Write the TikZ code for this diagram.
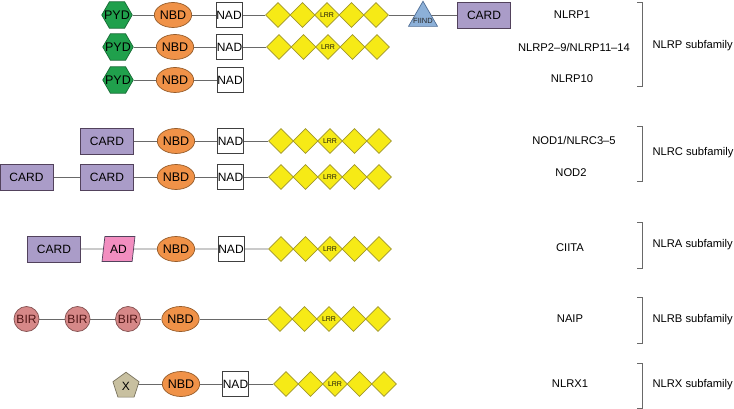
\documentclass[tikz,border=0pt]{standalone}
\usepackage{fontspec}
\setmainfont{Liberation Sans}
\usetikzlibrary{shapes.geometric,backgrounds}

\definecolor{pydfill}{RGB}{32,160,76}
\definecolor{pydline}{RGB}{22,105,52}
\definecolor{nbdfill}{RGB}{240,146,72}
\definecolor{nbdline}{RGB}{150,92,42}
\definecolor{lrrfill}{RGB}{246,234,22}
\definecolor{lrrline}{RGB}{160,150,44}
\definecolor{cardfill}{RGB}{170,156,200}
\definecolor{cardline}{RGB}{82,66,92}
\definecolor{adfill}{RGB}{242,142,192}
\definecolor{birfill}{RGB}{214,136,136}
\definecolor{birline}{RGB}{130,80,80}
\definecolor{birtext}{RGB}{80,22,22}
\definecolor{xfill}{RGB}{200,192,160}
\definecolor{xline}{RGB}{120,114,94}
\definecolor{fiindfill}{RGB}{140,176,216}
\definecolor{fiindline}{RGB}{80,110,150}
\definecolor{linkgray}{RGB}{105,105,105}

\tikzset{
  dom/.style={inner sep=0pt, line width=0.7pt, font=\fontsize{12}{13}\selectfont},
  pyd/.style={dom, regular polygon, regular polygon sides=6, minimum size=30.5pt,
    fill=pydfill, draw=pydline, label={[font=\fontsize{12.5}{13}\selectfont]center:PYD}},
  nbd/.style={dom, ellipse, minimum width=35pt, minimum height=25pt, fill=nbdfill, draw=nbdline,
    font=\fontsize{12.5}{13}\selectfont},
  nad/.style={dom, rectangle, minimum width=26pt, minimum height=25pt, fill=white, draw=black!75},
  lrr/.style={dom, diamond, minimum size=25pt, fill=lrrfill, draw=lrrline,
    font=\fontsize{7}{8}\selectfont, text=black!80!lrrline},
  card/.style={dom, rectangle, minimum width=53pt, minimum height=26pt, fill=cardfill, draw=cardline},
  ad/.style={dom, trapezium, trapezium left angle=78, trapezium right angle=102,
    trapezium stretches=true, minimum width=33pt, minimum height=25pt, fill=adfill, draw=cardline},
  bir/.style={dom, circle, minimum size=25pt, fill=birfill, draw=birline, text=birtext},
  xdom/.style={dom, regular polygon, regular polygon sides=5, minimum size=27.5pt,
    fill=xfill, draw=xline, label={[font=\fontsize{12}{13}\selectfont]center:X}},
  fiind/.style={dom, regular polygon, regular polygon sides=3, minimum size=33.5pt,
    fill=fiindfill, draw=fiindline,
    label={[font=\fontsize{7.5}{8}\selectfont, yshift=-3pt, text=black!85]center:FIIND}},
  link/.style={draw=linkgray, line width=0.8pt},
  member/.style={font=\fontsize{11.2}{12}\selectfont},
  family/.style={font=\fontsize{11.2}{12}\selectfont, anchor=west},
  brace/.style={draw=linkgray, line width=0.7pt}
}

\begin{document}
\begin{tikzpicture}[x=1pt,y=-1pt]
\useasboundingbox (0,0) rectangle (734,409);

\node[pyd] (p1) at (117,15) {};
\node[nbd] (n1) at (173,15) {NBD};
\node[nad] (a1) at (229,15) {NAD};
\foreach \i in {1,...,5} \node[lrr] (r1d\i) at ({278+24.5*(\i-1)},15) {\ifnum\i=3 LRR\fi};
\node[fiind] (f1) at (423,18) {};
\node[card] (c1) at (484,15) {CARD};

\node[pyd] (p2) at (118,47) {};
\node[nbd] (n2) at (175,47) {NBD};
\node[nad] (a2) at (229.5,47) {NAD};
\foreach \i in {1,...,5} \node[lrr] (r2d\i) at ({279+24.5*(\i-1)},47) {\ifnum\i=3 LRR\fi};

\node[pyd] (p3) at (118,80) {};
\node[nbd] (n3) at (175,80) {NBD};
\node[nad] (a3) at (230,80) {NAD};

\node[card] (c4) at (107,141) {CARD};
\node[nbd] (n4) at (176,141) {NBD};
\node[nad] (a4) at (230.5,141) {NAD};
\foreach \i in {1,...,5} \node[lrr] (r4d\i) at ({281+24.5*(\i-1)},141) {\ifnum\i=3 LRR\fi};

\node[card] (c5a) at (26.5,177) {CARD};
\node[card] (c5b) at (107,177) {CARD};
\node[nbd] (n5) at (176,177) {NBD};
\node[nad] (a5) at (230.5,177) {NAD};
\foreach \i in {1,...,5} \node[lrr] (r5d\i) at ({281+24.5*(\i-1)},177) {\ifnum\i=3 LRR\fi};

\node[card] (c6) at (54,249) {CARD};
\node[ad] (ad6) at (118.5,249) {AD};
\node[nbd] (n6) at (176,249) {NBD};
\node[nad] (a6) at (231,249) {NAD};
\foreach \i in {1,...,5} \node[lrr] (r6d\i) at ({281+24.5*(\i-1)},249) {\ifnum\i=3 LRR\fi};

\node[bir] (b7a) at (26.5,319) {BIR};
\node[bir] (b7b) at (77.5,319) {BIR};
\node[bir] (b7c) at (128,319) {BIR};
\node[nbd] (n7) at (180.5,319) {NBD};
\foreach \i in {1,...,5} \node[lrr] (r7d\i) at ({280+24.5*(\i-1)},319) {\ifnum\i=3 LRR\fi};

\node[xdom] (x8) at (126,386) {};
\node[nbd] (n8) at (181,384) {NBD};
\node[nad] (a8) at (235.5,384) {NAD};
\foreach \i in {1,...,5} \node[lrr] (r8d\i) at ({286+24.5*(\i-1)},384) {\ifnum\i=3 LRR\fi};

\begin{pgfonlayer}{background}
\draw[link] (p1) -- (n1) -- (a1) -- (r1d1);
\draw[link] (r1d5) -- (c1);
\draw[link] (p2) -- (n2) -- (a2) -- (r2d1);
\draw[link] (p3) -- (n3) -- (a3);
\draw[link] (c4) -- (n4) -- (a4) -- (r4d1);
\draw[link] (c5a) -- (c5b) -- (n5) -- (a5) -- (r5d1);
\draw[link] (c6) -- (ad6) -- (n6) -- (a6) -- (r6d1);
\draw[link] (b7a) -- (b7b) -- (b7c) -- (n7) -- (r7d1);
\draw[link] (x8.center |- n8) -- (n8) -- (a8) -- (r8d1);
\end{pgfonlayer}

\node[member] (m1) at (572,15) {NLRP1};
\node[member] (m2) at (574,47) {NLRP2–9/NLRP11–14};
\node[member] (m3) at (572,79) {NLRP10};
\node[member] (m4) at (574,140) {NOD1/NLRC3–5};
\node[member] (m5) at (571,173) {NOD2};
\node[member] (m6) at (570,248) {CIITA};
\node[member] (m7) at (570,319) {NAIP};
\node[member] (m8) at (570,384) {NLRX1};

\draw[brace] (637,2) -- (642,2) -- (642,86) -- (637,86);
\draw[brace] (637,126) -- (642,126) -- (642,181) -- (637,181);
\draw[brace] (637,222) -- (642,222) -- (642,268) -- (637,268);
\draw[brace] (637,297) -- (642,297) -- (642,343) -- (637,343);
\draw[brace] (637,363) -- (642,363) -- (642,408) -- (637,408);

\node[family] (s1) at (649,46) {NLRP subfamily};
\node[family] (s2) at (649,153) {NLRC subfamily};
\node[family] (s3) at (649,245) {NLRA subfamily};
\node[family] (s4) at (649,320) {NLRB subfamily};
\node[family] (s5) at (649,385) {NLRX subfamily};
\end{tikzpicture}
\end{document}
